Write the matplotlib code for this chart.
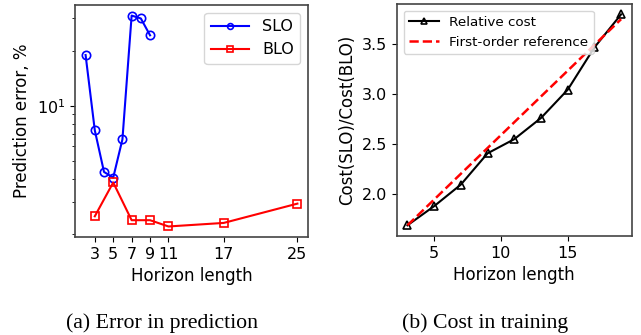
import numpy as np
import matplotlib
matplotlib.use("Agg")
import matplotlib.pyplot as plt

# (a) prediction error vs horizon length
slo_h = [2, 3, 4, 5, 6, 7, 8, 9]
slo_err = [18.9, 7.35, 4.36, 4.06, 6.56, 31.0, 29.9, 24.2]
blo_h = [3, 5, 7, 9, 11, 17, 25]
blo_err = [2.50, 3.82, 2.38, 2.38, 2.20, 2.30, 2.93]
err_ticks = [3, 5, 7, 9, 11, 17, 25]

# (b) relative training cost
cost_h = [3, 5, 7, 9, 11, 13, 15, 17, 19]
cost_ratio = [1.685, 1.877, 2.093, 2.406, 2.548, 2.760, 3.043, 3.467, 3.798]
ref_h = [3, 19]
ref_ratio = [1.685, 3.75]

fig = plt.figure(figsize=(6.41, 3.35), dpi=100)
ax1 = fig.add_axes([0.117, 0.2925, 0.3635, 0.6925])
ax2 = fig.add_axes([0.619, 0.296, 0.3666, 0.6925])

ax1.semilogy(slo_h, slo_err, "-o", color="blue", lw=1.5, ms=6, mfc="none", mew=1.2, label="SLO")
ax1.semilogy(blo_h, blo_err, "-s", color="red", lw=1.5, ms=6, mfc="none", mew=1.2, label="BLO")
ax1.set_xticks(err_ticks)
ax1.set_xlabel("Horizon length", fontsize=12)
ax1.set_ylabel("Prediction error, %", fontsize=12)
ax1.legend(loc="upper right", fontsize=11.5, markerscale=0.7, handlelength=2.4)

ax2.plot(cost_h, cost_ratio, "-^", color="black", lw=1.5, ms=6, mfc="none", mew=1.2, label="Relative cost")
ax2.plot(ref_h, ref_ratio, "--", color="red", lw=1.8, label="First-order reference")
ax2.set_xlabel("Horizon length", fontsize=12)
ax2.set_ylabel("Cost(SLO)/Cost(BLO)", fontsize=12)
ax2.legend(loc="upper left", fontsize=9.7, markerscale=0.8, handlelength=2.2)

for ax in (ax1, ax2):
    ax.tick_params(labelsize=11.5)
    for s in ax.spines.values():
        s.set_color("#444444")
        s.set_linewidth(1.2)

fig.text(0.103, 0.021, "(a) Error in prediction", family="Liberation Serif", fontsize=15.7,
         ha="left", va="baseline")
fig.text(0.627, 0.021, "(b) Cost in training", family="Liberation Serif", fontsize=15.7,
         ha="left", va="baseline")

fig.savefig("out.png", dpi=100)
